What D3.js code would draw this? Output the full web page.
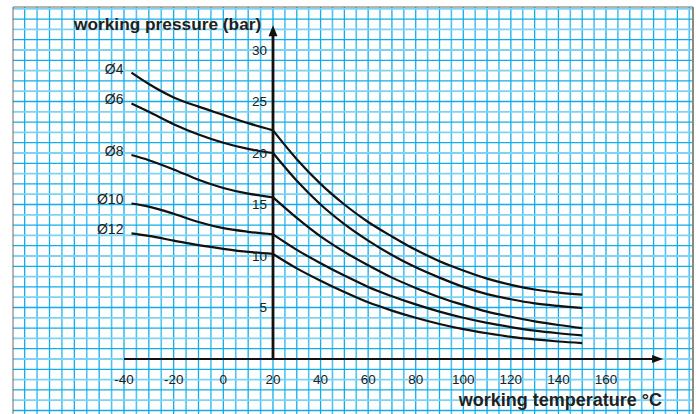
<!DOCTYPE html>
<html>
<head>
<meta charset="utf-8">
<script src="https://cdn.jsdelivr.net/npm/d3@7"></script>
<style>
  html, body { margin: 0; padding: 0; background: #fff; }
  svg { display: block; font-family: "Liberation Sans", Arial, Helvetica, sans-serif; }
</style>
</head>
<body>
<svg id="chart" width="696" height="414"></svg>
<script>
// Temperatures (°C) at which the pressure curves are sampled
const temps = [-37, -30, -20, -10, 0, 10, 20, 30, 40, 50, 60, 70, 80, 90, 100, 110, 120, 130, 140, 150];

// Working pressure (bar) per tube diameter
const d4  = [27.8, 26.7, 25.4, 24.5, 23.7, 22.9, 22.2, 19.4, 17.0, 15.0, 13.3, 11.9, 10.6, 9.5, 8.6, 7.8, 7.2, 6.75, 6.45, 6.25];
const d6  = [24.8, 24.0, 22.8, 21.8, 21.0, 20.4, 20.0, 17.3, 15.0, 13.1, 11.5, 10.1, 8.9, 7.9, 7.0, 6.3, 5.8, 5.4, 5.15, 4.95];
const d8  = [19.8, 19.3, 18.4, 17.4, 16.6, 16.05, 15.7, 13.7, 11.9, 10.4, 9.1, 7.9, 6.9, 6.0, 5.25, 4.6, 4.1, 3.65, 3.3, 3.0];
const d10 = [15.1, 14.8, 14.1, 13.3, 12.7, 12.35, 12.1, 10.6, 9.3, 8.1, 7.0, 6.1, 5.3, 4.6, 4.0, 3.5, 3.1, 2.75, 2.5, 2.3];
const d12 = [12.2, 11.95, 11.5, 11.05, 10.7, 10.4, 10.2, 8.8, 7.6, 6.5, 5.5, 4.7, 4.0, 3.4, 2.9, 2.5, 2.15, 1.9, 1.7, 1.55];

const seriesNames = ["Ø4", "Ø6", "Ø8", "Ø10", "Ø12"];
const seriesValues = [d4, d6, d8, d10, d12];

// Axis tick labels
const xTicks = [-40, -20, 0, 20, 40, 60, 80, 100, 120, 140, 160];
const yTicks = [5, 10, 15, 20, 25, 30];

const axisTemp = 20;      // the pressure axis stands at 20 °C
const xAxisMin = -40, xAxisMax = 184;
const yAxisMax = 32.4;

const svg = d3.select("#chart");

// Temperature scale: the paper is slightly denser to the right of the pressure axis
const x = d3.scaleLinear().domain([-40, 20, 160]).range([124, 273, 606]);
const y = d3.scaleLinear().domain([0, 30]).range([359, 50]);

// ---- graph paper ----
const frame = { left: 13, top: 7, right: 693, bottom: 414 };
svg.append("clipPath").attr("id", "paper")
  .append("rect")
  .attr("x", frame.left).attr("y", frame.top)
  .attr("width", frame.right - frame.left).attr("height", frame.bottom - frame.top);

const grid = svg.append("g").attr("clip-path", "url(#paper)");
const vLines = d3.range(-85, 200, 5);
const hLines = d3.range(-6, 36, 1);

grid.selectAll("line.v").data(vLines).join("line")
  .attr("class", "v")
  .attr("x1", d => x(d)).attr("x2", d => x(d))
  .attr("y1", frame.top).attr("y2", frame.bottom)
  .attr("stroke", (d, i) => i % 2 ? "#12ade8" : "#4fc2ef")
  .attr("stroke-width", (d, i) => i % 2 ? 1.3 : 1.6);

grid.selectAll("line.h").data(hLines).join("line")
  .attr("class", "h")
  .attr("y1", d => y(d)).attr("y2", d => y(d))
  .attr("x1", frame.left).attr("x2", frame.right)
  .attr("stroke", (d, i) => i % 2 ? "#12ade8" : "#7ed3f3")
  .attr("stroke-width", (d, i) => i % 2 ? 1.3 : 1.8);

// paper edges
svg.append("line").attr("x1", frame.left).attr("x2", frame.left)
  .attr("y1", frame.top).attr("y2", frame.bottom).attr("stroke", "#6b6b6b").attr("stroke-width", 1);
svg.append("line").attr("x1", frame.left).attr("x2", frame.right)
  .attr("y1", frame.top).attr("y2", frame.top).attr("stroke", "#6b6b6b").attr("stroke-width", 1);
svg.append("line").attr("x1", frame.right).attr("x2", frame.right)
  .attr("y1", frame.top).attr("y2", frame.bottom).attr("stroke", "#8a8a8a").attr("stroke-width", 2);

// ---- curves ----
const line = d3.line()
  .x(d => x(d.t))
  .y(d => y(d.p))
  .curve(d3.curveMonotoneX);

const curves = svg.append("g");
seriesValues.forEach((vals, si) => {
  const pts = temps.map((t, i) => ({ t, p: vals[i] }));
  // each curve has a corner where it meets the pressure axis
  const left = pts.filter(d => d.t <= axisTemp);
  const right = pts.filter(d => d.t >= axisTemp);
  [left, right].forEach(seg => {
    curves.append("path")
      .attr("d", line(seg))
      .attr("fill", "none")
      .attr("stroke", "#111")
      .attr("stroke-width", 2.2)
      .attr("stroke-linejoin", "round");
  });
  // diameter label at the start of each curve
  svg.append("text")
    .attr("x", x(temps[0]) - 8)
    .attr("y", y(vals[0]) - 4)
    .attr("text-anchor", "end")
    .attr("dy", "0.35em")
    .attr("font-size", 14)
    .attr("fill", "#222")
    .text(seriesNames[si]);
});

// ---- axes ----
const axes = svg.append("g");
// temperature axis with arrow
axes.append("line")
  .attr("x1", x(xAxisMin)).attr("x2", x(xAxisMax) - 8)
  .attr("y1", y(0)).attr("y2", y(0))
  .attr("stroke", "#111").attr("stroke-width", 2);
axes.append("path")
  .attr("d", `M${x(xAxisMax)},${y(0)} L${x(xAxisMax) - 11},${y(0) - 4} L${x(xAxisMax) - 11},${y(0) + 4} Z`)
  .attr("fill", "#111");

// pressure axis with arrow
axes.append("line")
  .attr("x1", x(axisTemp)).attr("x2", x(axisTemp))
  .attr("y1", y(0) + 1).attr("y2", y(yAxisMax) + 8)
  .attr("stroke", "#111").attr("stroke-width", 2.8);
axes.append("path")
  .attr("d", `M${x(axisTemp)},${y(yAxisMax)} L${x(axisTemp) - 4.5},${y(yAxisMax) + 11} L${x(axisTemp) + 4.5},${y(yAxisMax) + 11} Z`)
  .attr("fill", "#111");

// tick labels
axes.selectAll("text.xt").data(xTicks).join("text")
  .attr("class", "xt")
  .attr("x", d => x(d))
  .attr("y", y(0) + 20)
  .attr("dy", "0.35em")
  .attr("text-anchor", "middle")
  .attr("font-size", 13.5)
  .attr("fill", "#222")
  .text(d => d);

axes.selectAll("text.yt").data(yTicks).join("text")
  .attr("class", "yt")
  .attr("x", x(axisTemp) - 6)
  .attr("y", d => y(d))
  .attr("dy", "0.35em")
  .attr("text-anchor", "end")
  .attr("font-size", 13.5)
  .attr("fill", "#222")
  .text(d => d);

// axis titles
svg.append("text")
  .attr("x", 74).attr("y", 30)
  .attr("font-size", 17.3)
  .attr("font-weight", "bold")
  .attr("fill", "#231f20")
  .text("working pressure (bar)");

svg.append("text")
  .attr("x", 662).attr("y", 406)
  .attr("text-anchor", "end")
  .attr("font-size", 18)
  .attr("font-weight", "bold")
  .attr("fill", "#231f20")
  .text("working temperature °C");
</script>
</body>
</html>
